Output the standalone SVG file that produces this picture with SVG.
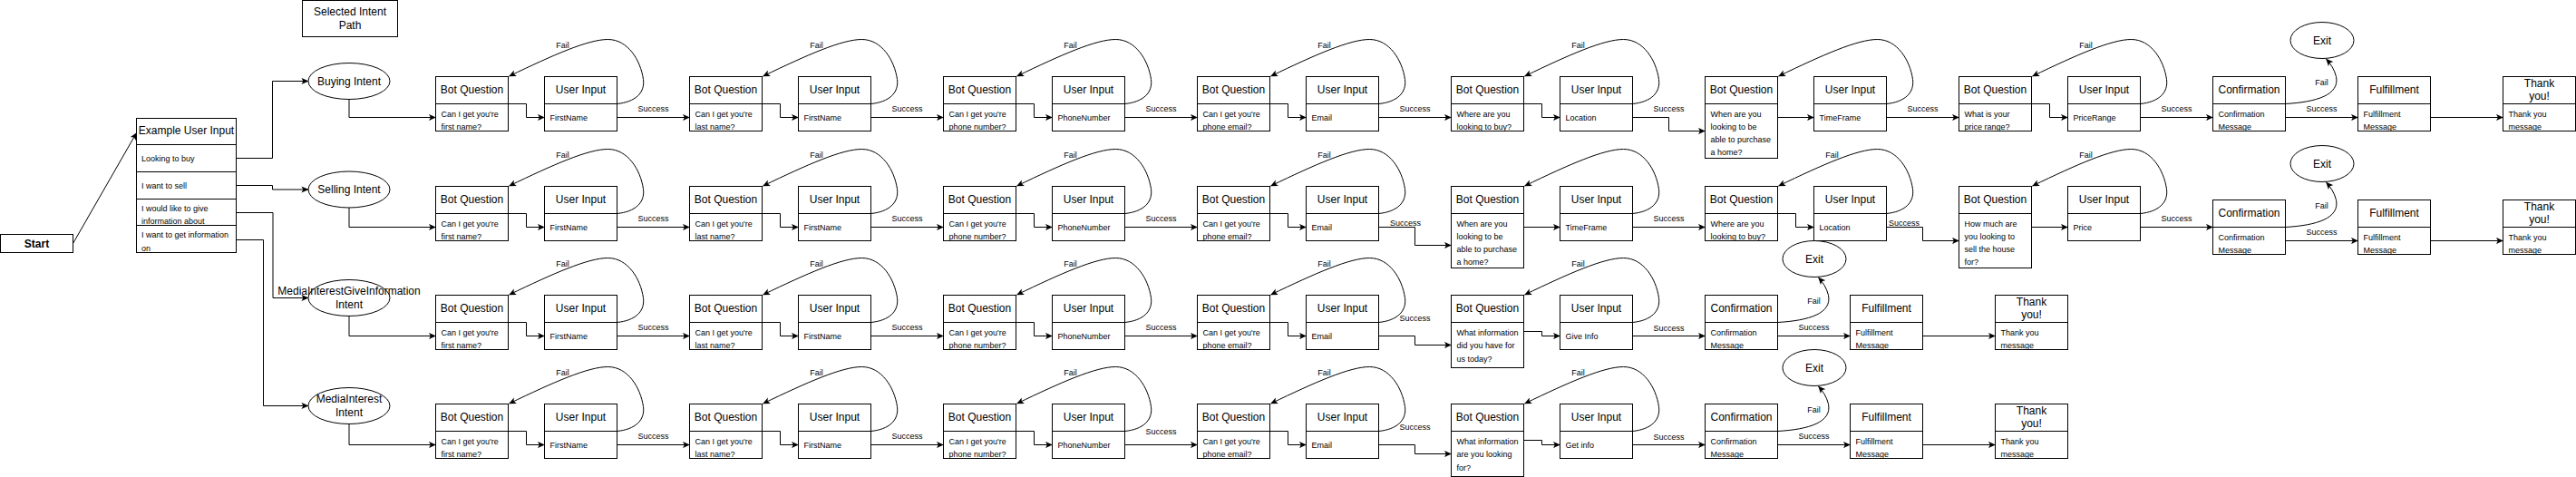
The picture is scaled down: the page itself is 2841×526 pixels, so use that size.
<svg xmlns="http://www.w3.org/2000/svg" width="2841" height="526" viewBox="0 0 2841 526">
<style>
.b{fill:#fff;stroke:#000;stroke-width:1}
.d{fill:none;stroke:#000;stroke-width:1}
.e{fill:none;stroke:#000;stroke-width:1;marker-end:url(#a)}
text{font-family:"Liberation Sans",Arial,Helvetica,sans-serif;fill:#000;dominant-baseline:central}
.h{font-size:12px;text-anchor:middle}
.hb{font-size:12px;text-anchor:middle;font-weight:bold}
.t{font-size:9px}
.l{font-size:9px;text-anchor:middle}
</style>
<defs>
<marker id="a" viewBox="0 0 10 10" refX="9.5" refY="5" markerWidth="8" markerHeight="8" markerUnits="userSpaceOnUse" orient="auto"><path d="M0,0.5L10,5L0,9.5L2.5,5Z" fill="#000"/></marker>
</defs>
<rect width="2841" height="526" fill="#fff"/>

<g id="connectors">
<path class="e" d="M80.5,268.5L150.5,146.5"/>
<path class="e" d="M260.5,174.5H300.5V89.5H340"/>
<path class="e" d="M260.5,204.5H300.5V209H340"/>
<path class="e" d="M260.5,234.5H301V328.5H340"/>
<path class="e" d="M260.5,264.5H290.5V447.5H340"/>
<path class="e" d="M385,109.5V129.5H480.5"/>
<path class="e" d="M385,229V250.5H480.5"/>
<path class="e" d="M385,348.5V370.5H480.5"/>
<path class="e" d="M385,467.5V490.5H480.5"/>

<!-- row 1 -->
<path class="e" d="M560.5,114.5H580.5V129.5H600.5"/>
<path class="e" d="M840.5,114.5H860.5V129.5H880.5"/>
<path class="e" d="M1120.5,114.5H1140.5V129.5H1160.5"/>
<path class="e" d="M1400.5,114.5H1420.5V129.5H1440.5"/>
<path class="e" d="M1680.5,114.5H1700.5V129.5H1720.5"/>
<path class="e" d="M1960.5,129.5H2000.5"/>
<path class="e" d="M2240.5,114.5H2260.5V129.5H2280.5"/>
<path class="e" d="M680.5,129.5H760.5"/>
<path class="e" d="M960.5,129.5H1040.5"/>
<path class="e" d="M1240.5,129.5H1320.5"/>
<path class="e" d="M1520.5,129.5H1600.5"/>
<path class="e" d="M1800.5,129.5H1840.5V144.5H1880.5"/>
<path class="e" d="M2080.5,129.5H2160.5"/>
<path class="e" d="M2360.5,129.5H2440.5"/>
<path class="e" d="M2520.5,129.5H2600.5"/>
<path class="e" d="M2680.5,129.5H2760.5"/>
<path class="e" transform="translate(600.5,84.5)" d="M80,30C100,28 111,18 109,3C106,-18 92,-41 70,-41C48,-41 10,-24 -39,-0.5"/>
<path class="e" transform="translate(880.5,84.5)" d="M80,30C100,28 111,18 109,3C106,-18 92,-41 70,-41C48,-41 10,-24 -39,-0.5"/>
<path class="e" transform="translate(1160.5,84.5)" d="M80,30C100,28 111,18 109,3C106,-18 92,-41 70,-41C48,-41 10,-24 -39,-0.5"/>
<path class="e" transform="translate(1440.5,84.5)" d="M80,30C100,28 111,18 109,3C106,-18 92,-41 70,-41C48,-41 10,-24 -39,-0.5"/>
<path class="e" transform="translate(1720.5,84.5)" d="M80,30C100,28 111,18 109,3C106,-18 92,-41 70,-41C48,-41 10,-24 -39,-0.5"/>
<path class="e" transform="translate(2000.5,84.5)" d="M80,30C100,28 111,18 109,3C106,-18 92,-41 70,-41C48,-41 10,-24 -39,-0.5"/>
<path class="e" transform="translate(2280.5,84.5)" d="M80,30C100,28 111,18 109,3C106,-18 92,-41 70,-41C48,-41 10,-24 -39,-0.5"/>
<path class="e" transform="translate(2440.5,84.5)" d="M80,30C115,28 140,20 136,0C134,-8 130,-14 125,-19.5"/>

<!-- row 2 -->
<path class="e" d="M560.5,235.5H580.5V250.5H600.5"/>
<path class="e" d="M840.5,235.5H860.5V250.5H880.5"/>
<path class="e" d="M1120.5,235.5H1140.5V250.5H1160.5"/>
<path class="e" d="M1400.5,235.5H1420.5V250.5H1440.5"/>
<path class="e" d="M1680.5,250.5H1720.5"/>
<path class="e" d="M1960.5,235.5H1980.5V250.5H2000.5"/>
<path class="e" d="M2240.5,250.5H2280.5"/>
<path class="e" d="M680.5,250.5H760.5"/>
<path class="e" d="M960.5,250.5H1040.5"/>
<path class="e" d="M1240.5,250.5H1320.5"/>
<path class="e" d="M1520.5,250.5H1560.5V270.5H1600.5"/>
<path class="e" d="M1800.5,250.5H1880.5"/>
<path class="e" d="M2080.5,250.5H2120.5V265.5H2160.5"/>
<path class="e" d="M2360.5,250.5H2440.5"/>
<path class="e" d="M2520.5,265.5H2600.5"/>
<path class="e" d="M2680.5,265.5H2760.5"/>
<path class="e" transform="translate(600.5,205.5)" d="M80,30C100,28 111,18 109,3C106,-18 92,-41 70,-41C48,-41 10,-24 -39,-0.5"/>
<path class="e" transform="translate(880.5,205.5)" d="M80,30C100,28 111,18 109,3C106,-18 92,-41 70,-41C48,-41 10,-24 -39,-0.5"/>
<path class="e" transform="translate(1160.5,205.5)" d="M80,30C100,28 111,18 109,3C106,-18 92,-41 70,-41C48,-41 10,-24 -39,-0.5"/>
<path class="e" transform="translate(1440.5,205.5)" d="M80,30C100,28 111,18 109,3C106,-18 92,-41 70,-41C48,-41 10,-24 -39,-0.5"/>
<path class="e" transform="translate(1720.5,205.5)" d="M80,30C100,28 111,18 109,3C106,-18 92,-41 70,-41C48,-41 10,-24 -39,-0.5"/>
<path class="e" transform="translate(2000.5,205.5)" d="M80,30C100,28 111,18 109,3C106,-18 92,-41 70,-41C48,-41 10,-24 -39,-0.5"/>
<path class="e" transform="translate(2280.5,205.5)" d="M80,30C100,28 111,18 109,3C106,-18 92,-41 70,-41C48,-41 10,-24 -39,-0.5"/>
<path class="e" transform="translate(2440.5,220.5)" d="M80,30C115,28 140,20 136,0C134,-8 130,-14 125,-19.5"/>

<!-- row 3 -->
<path class="e" d="M560.5,355.5H580.5V370.5H600.5"/>
<path class="e" d="M840.5,355.5H860.5V370.5H880.5"/>
<path class="e" d="M1120.5,355.5H1140.5V370.5H1160.5"/>
<path class="e" d="M1400.5,355.5H1420.5V370.5H1440.5"/>
<path class="e" d="M1680.5,365.5H1700.5V370.5H1720.5"/>
<path class="e" d="M680.5,370.5H760.5"/>
<path class="e" d="M960.5,370.5H1040.5"/>
<path class="e" d="M1240.5,370.5H1320.5"/>
<path class="e" d="M1520.5,370.5H1560.5V380.5H1600.5"/>
<path class="e" d="M1800.5,370.5H1880.5"/>
<path class="e" d="M1960.5,370.5H2040.5"/>
<path class="e" d="M2120.5,370.5H2200.5"/>
<path class="e" transform="translate(600.5,325.5)" d="M80,30C100,28 111,18 109,3C106,-18 92,-41 70,-41C48,-41 10,-24 -39,-0.5"/>
<path class="e" transform="translate(880.5,325.5)" d="M80,30C100,28 111,18 109,3C106,-18 92,-41 70,-41C48,-41 10,-24 -39,-0.5"/>
<path class="e" transform="translate(1160.5,325.5)" d="M80,30C100,28 111,18 109,3C106,-18 92,-41 70,-41C48,-41 10,-24 -39,-0.5"/>
<path class="e" transform="translate(1440.5,325.5)" d="M80,30C100,28 111,18 109,3C106,-18 92,-41 70,-41C48,-41 10,-24 -39,-0.5"/>
<path class="e" transform="translate(1720.5,325.5)" d="M80,30C100,28 111,18 109,3C106,-18 92,-41 70,-41C48,-41 10,-24 -39,-0.5"/>
<path class="e" transform="translate(1880.5,325.5)" d="M80,30C115,28 140,20 136,0C134,-8 130,-14 125,-19.5"/>

<!-- row 4 -->
<path class="e" d="M560.5,475.5H580.5V490.5H600.5"/>
<path class="e" d="M840.5,475.5H860.5V490.5H880.5"/>
<path class="e" d="M1120.5,475.5H1140.5V490.5H1160.5"/>
<path class="e" d="M1400.5,475.5H1420.5V490.5H1440.5"/>
<path class="e" d="M1680.5,485.5H1700.5V490.5H1720.5"/>
<path class="e" d="M680.5,490.5H760.5"/>
<path class="e" d="M960.5,490.5H1040.5"/>
<path class="e" d="M1240.5,490.5H1320.5"/>
<path class="e" d="M1520.5,490.5H1560.5V500.5H1600.5"/>
<path class="e" d="M1800.5,490.5H1880.5"/>
<path class="e" d="M1960.5,490.5H2040.5"/>
<path class="e" d="M2120.5,490.5H2200.5"/>
<path class="e" transform="translate(600.5,445.5)" d="M80,30C100,28 111,18 109,3C106,-18 92,-41 70,-41C48,-41 10,-24 -39,-0.5"/>
<path class="e" transform="translate(880.5,445.5)" d="M80,30C100,28 111,18 109,3C106,-18 92,-41 70,-41C48,-41 10,-24 -39,-0.5"/>
<path class="e" transform="translate(1160.5,445.5)" d="M80,30C100,28 111,18 109,3C106,-18 92,-41 70,-41C48,-41 10,-24 -39,-0.5"/>
<path class="e" transform="translate(1440.5,445.5)" d="M80,30C100,28 111,18 109,3C106,-18 92,-41 70,-41C48,-41 10,-24 -39,-0.5"/>
<path class="e" transform="translate(1720.5,445.5)" d="M80,30C100,28 111,18 109,3C106,-18 92,-41 70,-41C48,-41 10,-24 -39,-0.5"/>
<path class="e" transform="translate(1880.5,445.5)" d="M80,30C115,28 140,20 136,0C134,-8 130,-14 125,-19.5"/>

<!-- labels -->
<g id="labels">
<text class="l" x="620.5" y="49.5">Fail</text>
<text class="l" x="900.5" y="49.5">Fail</text>
<text class="l" x="1180.5" y="49.5">Fail</text>
<text class="l" x="1460.5" y="49.5">Fail</text>
<text class="l" x="1740.5" y="49.5">Fail</text>
<text class="l" x="2300.5" y="49.5">Fail</text>
<text class="l" x="2560.5" y="91">Fail</text>
<text class="l" x="720.5" y="119.5">Success</text>
<text class="l" x="1000.5" y="119.5">Success</text>
<text class="l" x="1280.5" y="119.5">Success</text>
<text class="l" x="1560.5" y="119.5">Success</text>
<text class="l" x="1840.5" y="119.5">Success</text>
<text class="l" x="2120.5" y="119.5">Success</text>
<text class="l" x="2400.5" y="119.5">Success</text>
<text class="l" x="2560.5" y="119.5">Success</text>

<text class="l" x="620.5" y="170.5">Fail</text>
<text class="l" x="900.5" y="170.5">Fail</text>
<text class="l" x="1180.5" y="170.5">Fail</text>
<text class="l" x="1460.5" y="170.5">Fail</text>
<text class="l" x="2020.5" y="170.5">Fail</text>
<text class="l" x="2300.5" y="170.5">Fail</text>
<text class="l" x="2560.5" y="227">Fail</text>
<text class="l" x="720.5" y="240.5">Success</text>
<text class="l" x="1000.5" y="240.5">Success</text>
<text class="l" x="1280.5" y="240.5">Success</text>
<text class="l" x="1550" y="246">Success</text>
<text class="l" x="1840.5" y="240.5">Success</text>
<text class="l" x="2100" y="246">Success</text>
<text class="l" x="2400.5" y="240.5">Success</text>
<text class="l" x="2560.5" y="256">Success</text>

<text class="l" x="620.5" y="290.5">Fail</text>
<text class="l" x="900.5" y="290.5">Fail</text>
<text class="l" x="1180.5" y="290.5">Fail</text>
<text class="l" x="1460.5" y="290.5">Fail</text>
<text class="l" x="1740.5" y="290.5">Fail</text>
<text class="l" x="2000.5" y="331.5">Fail</text>
<text class="l" x="720.5" y="360.5">Success</text>
<text class="l" x="1000.5" y="360.5">Success</text>
<text class="l" x="1280.5" y="360.5">Success</text>
<text class="l" x="1560.5" y="351">Success</text>
<text class="l" x="1840.5" y="361.5">Success</text>
<text class="l" x="2000.5" y="360.5">Success</text>

<text class="l" x="620.5" y="410.5">Fail</text>
<text class="l" x="900.5" y="410.5">Fail</text>
<text class="l" x="1180.5" y="410.5">Fail</text>
<text class="l" x="1460.5" y="410.5">Fail</text>
<text class="l" x="1740.5" y="410.5">Fail</text>
<text class="l" x="2000.5" y="451.5">Fail</text>
<text class="l" x="720.5" y="480.5">Success</text>
<text class="l" x="1000.5" y="480.5">Success</text>
<text class="l" x="1280.5" y="475.5">Success</text>
<text class="l" x="1560.5" y="471">Success</text>
<text class="l" x="1840.5" y="481.5">Success</text>
<text class="l" x="2000.5" y="480.5">Success</text>
</g>
</g>

<!-- left part -->
<g id="selected-intent-path"><rect class="b" x="333.5" y="0.5" width="105" height="40"/><text class="h" x="386" y="13">Selected Intent</text><text class="h" x="386" y="27.5">Path</text></g>
<g id="start"><rect class="b" x="0.5" y="258.5" width="80" height="20"/><text class="hb" x="40.5" y="268.5">Start</text></g>
<g id="example-user-input">
<rect class="b" x="150.5" y="130.5" width="110" height="148"/>
<path class="d" d="M150.5,159.5H260.5M150.5,189.5H260.5M150.5,219.5H260.5M150.5,248.5H260.5"/>
<text class="h" x="205.5" y="144">Example User Input</text>
<text class="t" x="156" y="174.5">Looking to buy</text>
<text class="t" x="156" y="204.5">I want to sell</text>
<text class="t" x="156" y="229.5">I would like to give</text>
<text class="t" x="156" y="243.5">information about</text>
<text class="t" x="156" y="259">I want to get information</text>
<text class="t" x="156" y="273.5">on</text>
</g>
<g id="buying-intent"><ellipse class="b" cx="385" cy="89.5" rx="45" ry="20"/><text class="h" x="385" y="89.5">Buying Intent</text></g>
<g id="selling-intent"><ellipse class="b" cx="385" cy="209" rx="45" ry="20"/><text class="h" x="385" y="209">Selling Intent</text></g>
<g id="media-give-intent"><ellipse class="b" cx="385" cy="328.5" rx="45" ry="20"/><text class="h" x="385" y="321">MediaInterestGiveInformation</text><text class="h" x="385" y="335.5">Intent</text></g>
<g id="media-intent"><ellipse class="b" cx="385" cy="447.5" rx="45" ry="20"/><text class="h" x="385" y="440">MediaInterest</text><text class="h" x="385" y="454.5">Intent</text></g>

<!-- row 1 nodes -->
<g id="r1-bq1" transform="translate(480.5,84.5)"><rect class="b" width="80" height="60"/><path class="d" d="M0,30H80"/><text class="h" x="40" y="14.5">Bot Question</text><text class="t" x="6" y="41">Can I get you're</text><text class="t" x="6" y="55">first name?</text></g>
<g id="r1-ui1" transform="translate(600.5,84.5)"><rect class="b" width="80" height="60"/><path class="d" d="M0,30H80"/><text class="h" x="40" y="14.5">User Input</text><text class="t" x="6" y="45">FirstName</text></g>
<g id="r1-bq2" transform="translate(760.5,84.5)"><rect class="b" width="80" height="60"/><path class="d" d="M0,30H80"/><text class="h" x="40" y="14.5">Bot Question</text><text class="t" x="6" y="41">Can I get you're</text><text class="t" x="6" y="55">last name?</text></g>
<g id="r1-ui2" transform="translate(880.5,84.5)"><rect class="b" width="80" height="60"/><path class="d" d="M0,30H80"/><text class="h" x="40" y="14.5">User Input</text><text class="t" x="6" y="45">FirstName</text></g>
<g id="r1-bq3" transform="translate(1040.5,84.5)"><rect class="b" width="80" height="60"/><path class="d" d="M0,30H80"/><text class="h" x="40" y="14.5">Bot Question</text><text class="t" x="6" y="41">Can I get you're</text><text class="t" x="6" y="55">phone number?</text></g>
<g id="r1-ui3" transform="translate(1160.5,84.5)"><rect class="b" width="80" height="60"/><path class="d" d="M0,30H80"/><text class="h" x="40" y="14.5">User Input</text><text class="t" x="6" y="45">PhoneNumber</text></g>
<g id="r1-bq4" transform="translate(1320.5,84.5)"><rect class="b" width="80" height="60"/><path class="d" d="M0,30H80"/><text class="h" x="40" y="14.5">Bot Question</text><text class="t" x="6" y="41">Can I get you're</text><text class="t" x="6" y="55">phone email?</text></g>
<g id="r1-ui4" transform="translate(1440.5,84.5)"><rect class="b" width="80" height="60"/><path class="d" d="M0,30H80"/><text class="h" x="40" y="14.5">User Input</text><text class="t" x="6" y="45">Email</text></g>
<g id="r1-bq5" transform="translate(1600.5,84.5)"><rect class="b" width="80" height="60"/><path class="d" d="M0,30H80"/><text class="h" x="40" y="14.5">Bot Question</text><text class="t" x="6" y="41">Where are you</text><text class="t" x="6" y="55">looking to buy?</text></g>
<g id="r1-ui5" transform="translate(1720.5,84.5)"><rect class="b" width="80" height="60"/><path class="d" d="M0,30H80"/><text class="h" x="40" y="14.5">User Input</text><text class="t" x="6" y="45">Location</text></g>
<g id="r1-bq6" transform="translate(1880.5,84.5)"><rect class="b" width="80" height="90"/><path class="d" d="M0,30H80"/><text class="h" x="40" y="14.5">Bot Question</text><text class="t" x="6" y="41">When are you</text><text class="t" x="6" y="55">looking to be</text><text class="t" x="6" y="69">able to purchase</text><text class="t" x="6" y="83.5">a home?</text></g>
<g id="r1-ui6" transform="translate(2000.5,84.5)"><rect class="b" width="80" height="60"/><path class="d" d="M0,30H80"/><text class="h" x="40" y="14.5">User Input</text><text class="t" x="6" y="45">TimeFrame</text></g>
<g id="r1-bq7" transform="translate(2160.5,84.5)"><rect class="b" width="80" height="60"/><path class="d" d="M0,30H80"/><text class="h" x="40" y="14.5">Bot Question</text><text class="t" x="6" y="41">What is your</text><text class="t" x="6" y="55">price range?</text></g>
<g id="r1-ui7" transform="translate(2280.5,84.5)"><rect class="b" width="80" height="60"/><path class="d" d="M0,30H80"/><text class="h" x="40" y="14.5">User Input</text><text class="t" x="6" y="45">PriceRange</text></g>
<g id="r1-confirmation" transform="translate(2440.5,84.5)"><rect class="b" width="80" height="60"/><path class="d" d="M0,30H80"/><text class="h" x="40" y="14.5">Confirmation</text><text class="t" x="6" y="41">Confirmation</text><text class="t" x="6" y="55">Message</text></g>
<g id="r1-fulfillment" transform="translate(2600.5,84.5)"><rect class="b" width="80" height="60"/><path class="d" d="M0,30H80"/><text class="h" x="40" y="14.5">Fulfillment</text><text class="t" x="6" y="41">Fulfillment</text><text class="t" x="6" y="55">Message</text></g>
<g id="r1-thankyou" transform="translate(2760.5,84.5)"><rect class="b" width="80" height="60"/><path class="d" d="M0,30H80"/><text class="h" x="40" y="7">Thank</text><text class="h" x="40" y="21.5">you!</text><text class="t" x="6" y="41">Thank you</text><text class="t" x="6" y="55">message</text></g>
<g id="r1-exit"><ellipse class="b" cx="2561" cy="44.5" rx="35" ry="20"/><text class="h" x="2561" y="44.5">Exit</text></g>

<!-- row 2 nodes -->
<g id="r2-bq1" transform="translate(480.5,205.5)"><rect class="b" width="80" height="60"/><path class="d" d="M0,30H80"/><text class="h" x="40" y="14.5">Bot Question</text><text class="t" x="6" y="41">Can I get you're</text><text class="t" x="6" y="55">first name?</text></g>
<g id="r2-ui1" transform="translate(600.5,205.5)"><rect class="b" width="80" height="60"/><path class="d" d="M0,30H80"/><text class="h" x="40" y="14.5">User Input</text><text class="t" x="6" y="45">FirstName</text></g>
<g id="r2-bq2" transform="translate(760.5,205.5)"><rect class="b" width="80" height="60"/><path class="d" d="M0,30H80"/><text class="h" x="40" y="14.5">Bot Question</text><text class="t" x="6" y="41">Can I get you're</text><text class="t" x="6" y="55">last name?</text></g>
<g id="r2-ui2" transform="translate(880.5,205.5)"><rect class="b" width="80" height="60"/><path class="d" d="M0,30H80"/><text class="h" x="40" y="14.5">User Input</text><text class="t" x="6" y="45">FirstName</text></g>
<g id="r2-bq3" transform="translate(1040.5,205.5)"><rect class="b" width="80" height="60"/><path class="d" d="M0,30H80"/><text class="h" x="40" y="14.5">Bot Question</text><text class="t" x="6" y="41">Can I get you're</text><text class="t" x="6" y="55">phone number?</text></g>
<g id="r2-ui3" transform="translate(1160.5,205.5)"><rect class="b" width="80" height="60"/><path class="d" d="M0,30H80"/><text class="h" x="40" y="14.5">User Input</text><text class="t" x="6" y="45">PhoneNumber</text></g>
<g id="r2-bq4" transform="translate(1320.5,205.5)"><rect class="b" width="80" height="60"/><path class="d" d="M0,30H80"/><text class="h" x="40" y="14.5">Bot Question</text><text class="t" x="6" y="41">Can I get you're</text><text class="t" x="6" y="55">phone email?</text></g>
<g id="r2-ui4" transform="translate(1440.5,205.5)"><rect class="b" width="80" height="60"/><path class="d" d="M0,30H80"/><text class="h" x="40" y="14.5">User Input</text><text class="t" x="6" y="45">Email</text></g>
<g id="r2-bq5" transform="translate(1600.5,205.5)"><rect class="b" width="80" height="90"/><path class="d" d="M0,30H80"/><text class="h" x="40" y="14.5">Bot Question</text><text class="t" x="6" y="41">When are you</text><text class="t" x="6" y="55">looking to be</text><text class="t" x="6" y="69">able to purchase</text><text class="t" x="6" y="83.5">a home?</text></g>
<g id="r2-ui5" transform="translate(1720.5,205.5)"><rect class="b" width="80" height="60"/><path class="d" d="M0,30H80"/><text class="h" x="40" y="14.5">User Input</text><text class="t" x="6" y="45">TimeFrame</text></g>
<g id="r2-bq6" transform="translate(1880.5,205.5)"><rect class="b" width="80" height="60"/><path class="d" d="M0,30H80"/><text class="h" x="40" y="14.5">Bot Question</text><text class="t" x="6" y="41">Where are you</text><text class="t" x="6" y="55">looking to buy?</text></g>
<g id="r2-ui6" transform="translate(2000.5,205.5)"><rect class="b" width="80" height="60"/><path class="d" d="M0,30H80"/><text class="h" x="40" y="14.5">User Input</text><text class="t" x="6" y="45">Location</text></g>
<g id="r2-bq7" transform="translate(2160.5,205.5)"><rect class="b" width="80" height="90"/><path class="d" d="M0,30H80"/><text class="h" x="40" y="14.5">Bot Question</text><text class="t" x="6" y="41">How much are</text><text class="t" x="6" y="55">you looking to</text><text class="t" x="6" y="69">sell the house</text><text class="t" x="6" y="83.5">for?</text></g>
<g id="r2-ui7" transform="translate(2280.5,205.5)"><rect class="b" width="80" height="60"/><path class="d" d="M0,30H80"/><text class="h" x="40" y="14.5">User Input</text><text class="t" x="6" y="45">Price</text></g>
<g id="r2-confirmation" transform="translate(2440.5,220.5)"><rect class="b" width="80" height="60"/><path class="d" d="M0,30H80"/><text class="h" x="40" y="14.5">Confirmation</text><text class="t" x="6" y="41">Confirmation</text><text class="t" x="6" y="55">Message</text></g>
<g id="r2-fulfillment" transform="translate(2600.5,220.5)"><rect class="b" width="80" height="60"/><path class="d" d="M0,30H80"/><text class="h" x="40" y="14.5">Fulfillment</text><text class="t" x="6" y="41">Fulfillment</text><text class="t" x="6" y="55">Message</text></g>
<g id="r2-thankyou" transform="translate(2760.5,220.5)"><rect class="b" width="80" height="60"/><path class="d" d="M0,30H80"/><text class="h" x="40" y="7">Thank</text><text class="h" x="40" y="21.5">you!</text><text class="t" x="6" y="41">Thank you</text><text class="t" x="6" y="55">message</text></g>
<g id="r2-exit"><ellipse class="b" cx="2561" cy="180.5" rx="35" ry="20"/><text class="h" x="2561" y="180.5">Exit</text></g>

<!-- row 3 nodes -->
<g id="r3-bq1" transform="translate(480.5,325.5)"><rect class="b" width="80" height="60"/><path class="d" d="M0,30H80"/><text class="h" x="40" y="14.5">Bot Question</text><text class="t" x="6" y="41">Can I get you're</text><text class="t" x="6" y="55">first name?</text></g>
<g id="r3-ui1" transform="translate(600.5,325.5)"><rect class="b" width="80" height="60"/><path class="d" d="M0,30H80"/><text class="h" x="40" y="14.5">User Input</text><text class="t" x="6" y="45">FirstName</text></g>
<g id="r3-bq2" transform="translate(760.5,325.5)"><rect class="b" width="80" height="60"/><path class="d" d="M0,30H80"/><text class="h" x="40" y="14.5">Bot Question</text><text class="t" x="6" y="41">Can I get you're</text><text class="t" x="6" y="55">last name?</text></g>
<g id="r3-ui2" transform="translate(880.5,325.5)"><rect class="b" width="80" height="60"/><path class="d" d="M0,30H80"/><text class="h" x="40" y="14.5">User Input</text><text class="t" x="6" y="45">FirstName</text></g>
<g id="r3-bq3" transform="translate(1040.5,325.5)"><rect class="b" width="80" height="60"/><path class="d" d="M0,30H80"/><text class="h" x="40" y="14.5">Bot Question</text><text class="t" x="6" y="41">Can I get you're</text><text class="t" x="6" y="55">phone number?</text></g>
<g id="r3-ui3" transform="translate(1160.5,325.5)"><rect class="b" width="80" height="60"/><path class="d" d="M0,30H80"/><text class="h" x="40" y="14.5">User Input</text><text class="t" x="6" y="45">PhoneNumber</text></g>
<g id="r3-bq4" transform="translate(1320.5,325.5)"><rect class="b" width="80" height="60"/><path class="d" d="M0,30H80"/><text class="h" x="40" y="14.5">Bot Question</text><text class="t" x="6" y="41">Can I get you're</text><text class="t" x="6" y="55">phone email?</text></g>
<g id="r3-ui4" transform="translate(1440.5,325.5)"><rect class="b" width="80" height="60"/><path class="d" d="M0,30H80"/><text class="h" x="40" y="14.5">User Input</text><text class="t" x="6" y="45">Email</text></g>
<g id="r3-bq5" transform="translate(1600.5,325.5)"><rect class="b" width="80" height="80"/><path class="d" d="M0,30H80"/><text class="h" x="40" y="14.5">Bot Question</text><text class="t" x="6" y="41">What information</text><text class="t" x="6" y="55.5">did you have for</text><text class="t" x="6" y="70.5">us today?</text></g>
<g id="r3-ui5" transform="translate(1720.5,325.5)"><rect class="b" width="80" height="60"/><path class="d" d="M0,30H80"/><text class="h" x="40" y="14.5">User Input</text><text class="t" x="6" y="45">Give Info</text></g>
<g id="r3-confirmation" transform="translate(1880.5,325.5)"><rect class="b" width="80" height="60"/><path class="d" d="M0,30H80"/><text class="h" x="40" y="14.5">Confirmation</text><text class="t" x="6" y="41">Confirmation</text><text class="t" x="6" y="55">Message</text></g>
<g id="r3-fulfillment" transform="translate(2040.5,325.5)"><rect class="b" width="80" height="60"/><path class="d" d="M0,30H80"/><text class="h" x="40" y="14.5">Fulfillment</text><text class="t" x="6" y="41">Fulfillment</text><text class="t" x="6" y="55">Message</text></g>
<g id="r3-thankyou" transform="translate(2200.5,325.5)"><rect class="b" width="80" height="60"/><path class="d" d="M0,30H80"/><text class="h" x="40" y="7">Thank</text><text class="h" x="40" y="21.5">you!</text><text class="t" x="6" y="41">Thank you</text><text class="t" x="6" y="55">message</text></g>
<g id="r3-exit"><ellipse class="b" cx="2001" cy="285.5" rx="35" ry="20"/><text class="h" x="2001" y="285.5">Exit</text></g>

<!-- row 4 nodes -->
<g id="r4-bq1" transform="translate(480.5,445.5)"><rect class="b" width="80" height="60"/><path class="d" d="M0,30H80"/><text class="h" x="40" y="14.5">Bot Question</text><text class="t" x="6" y="41">Can I get you're</text><text class="t" x="6" y="55">first name?</text></g>
<g id="r4-ui1" transform="translate(600.5,445.5)"><rect class="b" width="80" height="60"/><path class="d" d="M0,30H80"/><text class="h" x="40" y="14.5">User Input</text><text class="t" x="6" y="45">FirstName</text></g>
<g id="r4-bq2" transform="translate(760.5,445.5)"><rect class="b" width="80" height="60"/><path class="d" d="M0,30H80"/><text class="h" x="40" y="14.5">Bot Question</text><text class="t" x="6" y="41">Can I get you're</text><text class="t" x="6" y="55">last name?</text></g>
<g id="r4-ui2" transform="translate(880.5,445.5)"><rect class="b" width="80" height="60"/><path class="d" d="M0,30H80"/><text class="h" x="40" y="14.5">User Input</text><text class="t" x="6" y="45">FirstName</text></g>
<g id="r4-bq3" transform="translate(1040.5,445.5)"><rect class="b" width="80" height="60"/><path class="d" d="M0,30H80"/><text class="h" x="40" y="14.5">Bot Question</text><text class="t" x="6" y="41">Can I get you're</text><text class="t" x="6" y="55">phone number?</text></g>
<g id="r4-ui3" transform="translate(1160.5,445.5)"><rect class="b" width="80" height="60"/><path class="d" d="M0,30H80"/><text class="h" x="40" y="14.5">User Input</text><text class="t" x="6" y="45">PhoneNumber</text></g>
<g id="r4-bq4" transform="translate(1320.5,445.5)"><rect class="b" width="80" height="60"/><path class="d" d="M0,30H80"/><text class="h" x="40" y="14.5">Bot Question</text><text class="t" x="6" y="41">Can I get you're</text><text class="t" x="6" y="55">phone email?</text></g>
<g id="r4-ui4" transform="translate(1440.5,445.5)"><rect class="b" width="80" height="60"/><path class="d" d="M0,30H80"/><text class="h" x="40" y="14.5">User Input</text><text class="t" x="6" y="45">Email</text></g>
<g id="r4-bq5" transform="translate(1600.5,445.5)"><rect class="b" width="80" height="80"/><path class="d" d="M0,30H80"/><text class="h" x="40" y="14.5">Bot Question</text><text class="t" x="6" y="41">What information</text><text class="t" x="6" y="55.5">are you looking</text><text class="t" x="6" y="70.5">for?</text></g>
<g id="r4-ui5" transform="translate(1720.5,445.5)"><rect class="b" width="80" height="60"/><path class="d" d="M0,30H80"/><text class="h" x="40" y="14.5">User Input</text><text class="t" x="6" y="45">Get info</text></g>
<g id="r4-confirmation" transform="translate(1880.5,445.5)"><rect class="b" width="80" height="60"/><path class="d" d="M0,30H80"/><text class="h" x="40" y="14.5">Confirmation</text><text class="t" x="6" y="41">Confirmation</text><text class="t" x="6" y="55">Message</text></g>
<g id="r4-fulfillment" transform="translate(2040.5,445.5)"><rect class="b" width="80" height="60"/><path class="d" d="M0,30H80"/><text class="h" x="40" y="14.5">Fulfillment</text><text class="t" x="6" y="41">Fulfillment</text><text class="t" x="6" y="55">Message</text></g>
<g id="r4-thankyou" transform="translate(2200.5,445.5)"><rect class="b" width="80" height="60"/><path class="d" d="M0,30H80"/><text class="h" x="40" y="7">Thank</text><text class="h" x="40" y="21.5">you!</text><text class="t" x="6" y="41">Thank you</text><text class="t" x="6" y="55">message</text></g>
<g id="r4-exit"><ellipse class="b" cx="2001" cy="405.5" rx="35" ry="20"/><text class="h" x="2001" y="405.5">Exit</text></g>
</svg>
